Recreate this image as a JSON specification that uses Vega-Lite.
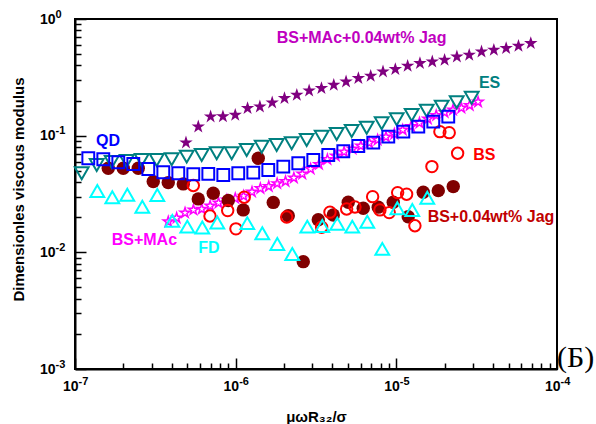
{
  "$schema": "https://vega.github.io/schema/vega-lite/v6.json",
  "width": 482,
  "height": 350,
  "autosize": {"type": "none"},
  "padding": {"left": 75, "top": 19, "right": 39, "bottom": 55},
  "background": "white",
  "config": {
    "view": {"stroke": "black", "strokeWidth": 2},
    "font": "Liberation Sans"
  },
  "datasets": {
    "points": [
      {"series": "QD", "x": 1.210e-7, "y": 0.0640},
      {"series": "QD", "x": 1.500e-7, "y": 0.0628},
      {"series": "QD", "x": 1.860e-7, "y": 0.0592},
      {"series": "QD", "x": 2.306e-7, "y": 0.0572},
      {"series": "QD", "x": 2.859e-7, "y": 0.0518},
      {"series": "QD", "x": 3.545e-7, "y": 0.0486},
      {"series": "QD", "x": 4.395e-7, "y": 0.0476},
      {"series": "QD", "x": 5.449e-7, "y": 0.0467},
      {"series": "QD", "x": 6.755e-7, "y": 0.0470},
      {"series": "QD", "x": 8.375e-7, "y": 0.0460},
      {"series": "QD", "x": 1.038e-6, "y": 0.0476},
      {"series": "QD", "x": 1.287e-6, "y": 0.0482},
      {"series": "QD", "x": 1.596e-6, "y": 0.0508},
      {"series": "QD", "x": 1.979e-6, "y": 0.0543},
      {"series": "QD", "x": 2.453e-6, "y": 0.0580},
      {"series": "QD", "x": 3.042e-6, "y": 0.0619},
      {"series": "QD", "x": 3.771e-6, "y": 0.0683},
      {"series": "QD", "x": 4.676e-6, "y": 0.0735},
      {"series": "QD", "x": 5.797e-6, "y": 0.0816},
      {"series": "QD", "x": 7.187e-6, "y": 0.0871},
      {"series": "QD", "x": 8.911e-6, "y": 0.0980},
      {"series": "QD", "x": 1.105e-5, "y": 0.1082},
      {"series": "QD", "x": 1.370e-5, "y": 0.1194},
      {"series": "QD", "x": 1.698e-5, "y": 0.1318},
      {"series": "QD", "x": 2.105e-5, "y": 0.1455},

      {"series": "ES", "x": 1.101e-7, "y": 0.0476},
      {"series": "ES", "x": 1.365e-7, "y": 0.0561},
      {"series": "ES", "x": 1.692e-7, "y": 0.0595},
      {"series": "ES", "x": 2.098e-7, "y": 0.0607},
      {"series": "ES", "x": 2.601e-7, "y": 0.0619},
      {"series": "ES", "x": 3.225e-7, "y": 0.0619},
      {"series": "ES", "x": 3.998e-7, "y": 0.0628},
      {"series": "ES", "x": 4.957e-7, "y": 0.0661},
      {"series": "ES", "x": 6.146e-7, "y": 0.0683},
      {"series": "ES", "x": 7.620e-7, "y": 0.0707},
      {"series": "ES", "x": 9.447e-7, "y": 0.0707},
      {"series": "ES", "x": 1.171e-6, "y": 0.0754},
      {"series": "ES", "x": 1.452e-6, "y": 0.0805},
      {"series": "ES", "x": 1.800e-6, "y": 0.0832},
      {"series": "ES", "x": 2.232e-6, "y": 0.0861},
      {"series": "ES", "x": 2.767e-6, "y": 0.0919},
      {"series": "ES", "x": 3.431e-6, "y": 0.0980},
      {"series": "ES", "x": 4.254e-6, "y": 0.1034},
      {"series": "ES", "x": 5.274e-6, "y": 0.1097},
      {"series": "ES", "x": 6.539e-6, "y": 0.1171},
      {"series": "ES", "x": 8.107e-6, "y": 0.1277},
      {"series": "ES", "x": 1.005e-5, "y": 0.1382},
      {"series": "ES", "x": 1.246e-5, "y": 0.1505},
      {"series": "ES", "x": 1.545e-5, "y": 0.1637},
      {"series": "ES", "x": 1.916e-5, "y": 0.1772},
      {"series": "ES", "x": 2.375e-5, "y": 0.1932},
      {"series": "ES", "x": 2.945e-5, "y": 0.2117},

      {"series": "BSMAcJag", "x": 4.906e-7, "y": 0.0871},
      {"series": "BSMAcJag", "x": 5.853e-7, "y": 0.1194},
      {"series": "BSMAcJag", "x": 6.983e-7, "y": 0.1455},
      {"series": "BSMAcJag", "x": 8.331e-7, "y": 0.1460},
      {"series": "BSMAcJag", "x": 9.939e-7, "y": 0.1505},
      {"series": "BSMAcJag", "x": 1.186e-6, "y": 0.1717},
      {"series": "BSMAcJag", "x": 1.415e-6, "y": 0.1772},
      {"series": "BSMAcJag", "x": 1.688e-6, "y": 0.1918},
      {"series": "BSMAcJag", "x": 2.013e-6, "y": 0.2092},
      {"series": "BSMAcJag", "x": 2.402e-6, "y": 0.2233},
      {"series": "BSMAcJag", "x": 2.866e-6, "y": 0.2430},
      {"series": "BSMAcJag", "x": 3.419e-6, "y": 0.2548},
      {"series": "BSMAcJag", "x": 4.079e-6, "y": 0.2720},
      {"series": "BSMAcJag", "x": 4.866e-6, "y": 0.2902},
      {"series": "BSMAcJag", "x": 5.805e-6, "y": 0.3104},
      {"series": "BSMAcJag", "x": 6.925e-6, "y": 0.3248},
      {"series": "BSMAcJag", "x": 8.262e-6, "y": 0.3536},
      {"series": "BSMAcJag", "x": 9.857e-6, "y": 0.3707},
      {"series": "BSMAcJag", "x": 1.176e-5, "y": 0.3956},
      {"series": "BSMAcJag", "x": 1.403e-5, "y": 0.4172},
      {"series": "BSMAcJag", "x": 1.674e-5, "y": 0.4306},
      {"series": "BSMAcJag", "x": 1.997e-5, "y": 0.4453},
      {"series": "BSMAcJag", "x": 2.382e-5, "y": 0.4753},
      {"series": "BSMAcJag", "x": 2.842e-5, "y": 0.4916},
      {"series": "BSMAcJag", "x": 3.390e-5, "y": 0.5246},
      {"series": "BSMAcJag", "x": 4.045e-5, "y": 0.5425},
      {"series": "BSMAcJag", "x": 4.825e-5, "y": 0.5610},
      {"series": "BSMAcJag", "x": 5.757e-5, "y": 0.5870},
      {"series": "BSMAcJag", "x": 6.868e-5, "y": 0.6191},

      {"series": "BSMAc", "x": 3.807e-7, "y": 0.0183},
      {"series": "BSMAc", "x": 4.292e-7, "y": 0.0197},
      {"series": "BSMAc", "x": 4.840e-7, "y": 0.0218},
      {"series": "BSMAc", "x": 5.457e-7, "y": 0.0231},
      {"series": "BSMAc", "x": 6.153e-7, "y": 0.0235},
      {"series": "BSMAc", "x": 6.937e-7, "y": 0.0250},
      {"series": "BSMAc", "x": 7.822e-7, "y": 0.0265},
      {"series": "BSMAc", "x": 8.819e-7, "y": 0.0281},
      {"series": "BSMAc", "x": 9.943e-7, "y": 0.0290},
      {"series": "BSMAc", "x": 1.121e-6, "y": 0.0304},
      {"series": "BSMAc", "x": 1.264e-6, "y": 0.0329},
      {"series": "BSMAc", "x": 1.425e-6, "y": 0.0353},
      {"series": "BSMAc", "x": 1.607e-6, "y": 0.0367},
      {"series": "BSMAc", "x": 1.812e-6, "y": 0.0389},
      {"series": "BSMAc", "x": 2.043e-6, "y": 0.0405},
      {"series": "BSMAc", "x": 2.303e-6, "y": 0.0434},
      {"series": "BSMAc", "x": 2.597e-6, "y": 0.0470},
      {"series": "BSMAc", "x": 2.928e-6, "y": 0.0518},
      {"series": "BSMAc", "x": 3.301e-6, "y": 0.0567},
      {"series": "BSMAc", "x": 3.722e-6, "y": 0.0625},
      {"series": "BSMAc", "x": 4.197e-6, "y": 0.0670},
      {"series": "BSMAc", "x": 4.732e-6, "y": 0.0725},
      {"series": "BSMAc", "x": 5.335e-6, "y": 0.0769},
      {"series": "BSMAc", "x": 6.015e-6, "y": 0.0816},
      {"series": "BSMAc", "x": 6.782e-6, "y": 0.0866},
      {"series": "BSMAc", "x": 7.647e-6, "y": 0.0919},
      {"series": "BSMAc", "x": 8.622e-6, "y": 0.0975},
      {"series": "BSMAc", "x": 9.721e-6, "y": 0.1034},
      {"series": "BSMAc", "x": 1.096e-5, "y": 0.1119},
      {"series": "BSMAc", "x": 1.236e-5, "y": 0.1199},
      {"series": "BSMAc", "x": 1.393e-5, "y": 0.1285},
      {"series": "BSMAc", "x": 1.571e-5, "y": 0.1390},
      {"series": "BSMAc", "x": 1.771e-5, "y": 0.1490},
      {"series": "BSMAc", "x": 1.997e-5, "y": 0.1580},
      {"series": "BSMAc", "x": 2.252e-5, "y": 0.1661},
      {"series": "BSMAc", "x": 2.539e-5, "y": 0.1727},
      {"series": "BSMAc", "x": 2.862e-5, "y": 0.1815},
      {"series": "BSMAc", "x": 3.227e-5, "y": 0.1944},

      {"series": "BS", "x": 5.45e-7, "y": 0.0374},
      {"series": "BS", "x": 6.92e-7, "y": 0.0205},
      {"series": "BS", "x": 8.92e-7, "y": 0.0228},
      {"series": "BS", "x": 1.004e-6, "y": 0.0159},
      {"series": "BS", "x": 1.131e-6, "y": 0.0297},
      {"series": "BS", "x": 2.077e-6, "y": 0.0201},
      {"series": "BS", "x": 3.428e-6, "y": 0.0164},
      {"series": "BS", "x": 3.863e-6, "y": 0.0221},
      {"series": "BS", "x": 4.906e-6, "y": 0.0235},
      {"series": "BS", "x": 5.526e-6, "y": 0.0245},
      {"series": "BS", "x": 7.120e-6, "y": 0.0300},
      {"series": "BS", "x": 7.905e-6, "y": 0.0231},
      {"series": "BS", "x": 9.03e-6, "y": 0.0219},
      {"series": "BS", "x": 1.019e-5, "y": 0.0325},
      {"series": "BS", "x": 1.159e-5, "y": 0.0315},
      {"series": "BS", "x": 1.305e-5, "y": 0.0169},
      {"series": "BS", "x": 1.665e-5, "y": 0.0543},
      {"series": "BS", "x": 1.867e-5, "y": 0.1082},
      {"series": "BS", "x": 2.134e-5, "y": 0.1061},
      {"series": "BS", "x": 2.407e-5, "y": 0.0707},

      {"series": "BSJag", "x": 1.611e-7, "y": 0.0526},
      {"series": "BSJag", "x": 1.997e-7, "y": 0.0526},
      {"series": "BSJag", "x": 2.476e-7, "y": 0.0526},
      {"series": "BSJag", "x": 3.070e-7, "y": 0.0404},
      {"series": "BSJag", "x": 3.806e-7, "y": 0.0396},
      {"series": "BSJag", "x": 4.719e-7, "y": 0.0386},
      {"series": "BSJag", "x": 5.851e-7, "y": 0.0287},
      {"series": "BSJag", "x": 7.254e-7, "y": 0.0321},
      {"series": "BSJag", "x": 8.993e-7, "y": 0.0278},
      {"series": "BSJag", "x": 1.115e-6, "y": 0.0231},
      {"series": "BSJag", "x": 1.382e-6, "y": 0.0640},
      {"series": "BSJag", "x": 1.714e-6, "y": 0.0268},
      {"series": "BSJag", "x": 2.125e-6, "y": 0.0206},
      {"series": "BSJag", "x": 2.635e-6, "y": 0.00832},
      {"series": "BSJag", "x": 3.267e-6, "y": 0.0190},
      {"series": "BSJag", "x": 4.050e-6, "y": 0.0209},
      {"series": "BSJag", "x": 5.021e-6, "y": 0.0269},
      {"series": "BSJag", "x": 6.225e-6, "y": 0.0239},
      {"series": "BSJag", "x": 7.718e-6, "y": 0.0244},
      {"series": "BSJag", "x": 9.569e-6, "y": 0.0269},
      {"series": "BSJag", "x": 1.186e-5, "y": 0.0202},
      {"series": "BSJag", "x": 1.471e-5, "y": 0.0327},
      {"series": "BSJag", "x": 1.824e-5, "y": 0.0338},
      {"series": "BSJag", "x": 2.261e-5, "y": 0.0366},

      {"series": "FD", "x": 1.377e-7, "y": 0.0335},
      {"series": "FD", "x": 1.707e-7, "y": 0.0297},
      {"series": "FD", "x": 2.116e-7, "y": 0.0312},
      {"series": "FD", "x": 2.624e-7, "y": 0.0246},
      {"series": "FD", "x": 3.253e-7, "y": 0.0310},
      {"series": "FD", "x": 4.033e-7, "y": 0.0186},
      {"series": "FD", "x": 5.000e-7, "y": 0.0166},
      {"series": "FD", "x": 6.199e-7, "y": 0.0163},
      {"series": "FD", "x": 7.686e-7, "y": 0.0180},
      {"series": "FD", "x": 1.181e-6, "y": 0.0178},
      {"series": "FD", "x": 1.465e-6, "y": 0.0146},
      {"series": "FD", "x": 1.816e-6, "y": 0.0118},
      {"series": "FD", "x": 2.251e-6, "y": 0.00969},
      {"series": "FD", "x": 2.791e-6, "y": 0.0166},
      {"series": "FD", "x": 3.460e-6, "y": 0.0168},
      {"series": "FD", "x": 4.290e-6, "y": 0.0176},
      {"series": "FD", "x": 5.319e-6, "y": 0.0166},
      {"series": "FD", "x": 6.594e-6, "y": 0.0183},
      {"series": "FD", "x": 8.176e-6, "y": 0.0107},
      {"series": "FD", "x": 1.014e-5, "y": 0.0239},
      {"series": "FD", "x": 1.257e-5, "y": 0.0231},
      {"series": "FD", "x": 1.558e-5, "y": 0.0294}
    ],
    "labels": [
      {"text": "QD", "x": 1.351e-7, "y": 0.0901},
      {"text": "BS+MAc+0.04wt% Jag", "x": 1.800e-6, "y": 0.683},
      {"text": "ES", "x": 3.266e-5, "y": 0.2812},
      {"text": "BS", "x": 3.009e-5, "y": 0.0683},
      {"text": "BS+0.04wt% Jag", "x": 1.566e-5, "y": 0.0202},
      {"text": "BS+MAc", "x": 1.692e-7, "y": 0.01277},
      {"text": "FD", "x": 5.852e-7, "y": 0.01084}
    ],
    "panel": [
      {"text": "(Б)", "x": 1.0e-4, "y": 1.245e-3}
    ]
  },
  "resolve": {"axis": {"x": "independent", "y": "independent"}},
  "encoding": {
    "x": {"field": "x", "type": "quantitative", "scale": {"type": "log", "domain": [1e-7, 1e-4], "nice": false}, "axis": null},
    "y": {"field": "y", "type": "quantitative", "scale": {"type": "log", "domain": [1e-3, 1], "nice": false}, "axis": null}
  },
  "layer": [
    {
      "data": {"name": "points"},
      "transform": [{"filter": "datum.series == 'BSMAc'"}],
      "mark": {"type": "point", "shape": "M0,-1L0.2245,-0.309L0.9511,-0.309L0.3633,0.118L0.5878,0.809L0,0.382L-0.5878,0.809L-0.3633,0.118L-0.9511,-0.309L-0.2245,-0.309Z", "filled": false, "stroke": "#FF00FF", "strokeWidth": 1.5, "size": 110, "opacity": 1},
      "encoding": {
        "x": {
          "field": "x", "type": "quantitative",
          "scale": {"type": "log", "domain": [1e-7, 1e-4], "nice": false},
          "axis": {
            "orient": "bottom",
            "title": "μωR₃₂/σ",
            "titleFont": "Liberation Sans", "titleFontSize": 15, "titleFontWeight": "bold", "titleColor": "black",
            "titleY": 47, "titleBaseline": "middle",
            "values": [1e-7,2e-7,3e-7,4e-7,5e-7,6e-7,7e-7,8e-7,9e-7,1e-6,2e-6,3e-6,4e-6,5e-6,6e-6,7e-6,8e-6,9e-6,1e-5,2e-5,3e-5,4e-5,5e-5,6e-5,7e-5,8e-5,9e-5,1e-4],
            "labelExpr": "abs(datum.value/pow(10, round(log(datum.value)/LN10)) - 1) < 0.01 ? '10' : ''",
            "labelFont": "Liberation Sans", "labelFontSize": 14, "labelFontWeight": "bold", "labelColor": "black",
            "labelAlign": "right", "labelOffset": 3,
            "labelFlush": false, "labelOverlap": false, "labelBound": false,
            "labelPadding": 21,
            "tickSize": {"condition": {"test": "abs(datum.value/pow(10, round(log(datum.value)/LN10)) - 1) < 0.01", "value": -11}, "value": -6},
            "tickColor": "black", "tickWidth": 1.5,
            "domainColor": "black", "domainWidth": 2,
            "grid": false
          }
        },
        "y": {
          "field": "y", "type": "quantitative",
          "scale": {"type": "log", "domain": [1e-3, 1], "nice": false},
          "axis": {
            "orient": "left",
            "title": "Dimensionles viscous modulus",
            "titleFont": "Liberation Sans", "titleFontSize": 15, "titleFontWeight": "bold", "titleColor": "black",
            "titleX": -57, "titleY": 170, "titleBaseline": "middle", "titleAngle": -90, "titleAlign": "center",
            "values": [1e-3,2e-3,3e-3,4e-3,5e-3,6e-3,7e-3,8e-3,9e-3,1e-2,2e-2,3e-2,4e-2,5e-2,6e-2,7e-2,8e-2,9e-2,1e-1,2e-1,3e-1,4e-1,5e-1,6e-1,7e-1,8e-1,9e-1,1],
            "labelExpr": "abs(datum.value/pow(10, round(log(datum.value)/LN10)) - 1) < 0.01 ? '10' : ''",
            "labelFont": "Liberation Sans", "labelFontSize": 14, "labelFontWeight": "bold", "labelColor": "black",
            "labelAlign": "right", "labelBaseline": "middle",
            "labelFlush": false, "labelOverlap": false, "labelBound": false,
            "labelPadding": 31,
            "tickSize": {"condition": {"test": "abs(datum.value/pow(10, round(log(datum.value)/LN10)) - 1) < 0.01", "value": -11}, "value": -6},
            "tickColor": "black", "tickWidth": 1.5,
            "domainColor": "black", "domainWidth": 2,
            "grid": false
          }
        }
      }
    },
    {
      "data": {"name": "points"},
      "transform": [{"filter": "datum.series == 'BSJag'"}],
      "mark": {"type": "point", "shape": "circle", "filled": true, "fill": "#800000", "size": 180, "opacity": 1}
    },
    {
      "data": {"name": "points"},
      "transform": [{"filter": "datum.series == 'BS'"}],
      "mark": {"type": "point", "shape": "circle", "filled": false, "stroke": "#FF0000", "strokeWidth": 2, "size": 130, "opacity": 1}
    },
    {
      "data": {"name": "points"},
      "transform": [{"filter": "datum.series == 'FD'"}],
      "mark": {"type": "point", "shape": "triangle-up", "filled": false, "stroke": "#00FFFF", "strokeWidth": 2, "size": 190, "opacity": 1}
    },
    {
      "data": {"name": "points"},
      "transform": [{"filter": "datum.series == 'ES'"}],
      "mark": {"type": "point", "shape": "triangle-down", "filled": false, "stroke": "#008080", "strokeWidth": 2, "size": 190, "opacity": 1}
    },
    {
      "data": {"name": "points"},
      "transform": [{"filter": "datum.series == 'QD'"}],
      "mark": {"type": "point", "shape": "square", "filled": false, "stroke": "#0000FF", "strokeWidth": 2, "size": 140, "opacity": 1}
    },
    {
      "data": {"name": "points"},
      "transform": [{"filter": "datum.series == 'BSMAcJag'"}],
      "mark": {"type": "point", "shape": "M0,-1L0.2245,-0.309L0.9511,-0.309L0.3633,0.118L0.5878,0.809L0,0.382L-0.5878,0.809L-0.3633,0.118L-0.9511,-0.309L-0.2245,-0.309Z", "filled": true, "fill": "#800080", "size": 200, "opacity": 1}
    },
    {
      "data": {"name": "labels"},
      "mark": {"type": "text", "align": "left", "baseline": "middle", "font": "Liberation Sans", "fontSize": 16, "fontWeight": "bold"},
      "encoding": {
        "x": {
          "field": "x", "type": "quantitative",
          "scale": {"type": "log", "domain": [1e-7, 1e-4], "nice": false},
          "axis": {
            "orient": "bottom", "title": null,
            "values": [1e-7, 1e-6, 1e-5, 1e-4],
            "labelExpr": "round(log(datum.value)/LN10) == -7 ? '-7' : round(log(datum.value)/LN10) == -6 ? '-6' : round(log(datum.value)/LN10) == -5 ? '-5' : '-4'",
            "labelFont": "Liberation Sans", "labelFontSize": 11, "labelFontWeight": "bold", "labelColor": "black",
            "labelAlign": "left", "labelOffset": 3, "labelPadding": 6,
            "labelFlush": false, "labelOverlap": false, "labelBound": false,
            "ticks": false, "domain": false, "grid": false
          }
        },
        "y": {
          "field": "y", "type": "quantitative",
          "scale": {"type": "log", "domain": [1e-3, 1], "nice": false},
          "axis": {
            "orient": "left", "title": null,
            "values": [1e-3, 1e-2, 1e-1, 1],
            "labelExpr": "round(log(datum.value)/LN10) == -3 ? '-3' : round(log(datum.value)/LN10) == -2 ? '-2' : round(log(datum.value)/LN10) == -1 ? '-1' : '0'",
            "labelFont": "Liberation Sans", "labelFontSize": 11, "labelFontWeight": "bold", "labelColor": "black",
            "labelAlign": "left", "labelBaseline": "middle", "labelOffset": -5, "labelPadding": 20,
            "labelFlush": false, "labelOverlap": false, "labelBound": false,
            "ticks": false, "domain": false, "grid": false
          }
        },
        "text": {"field": "text"},
        "color": {
          "field": "text", "type": "nominal", "legend": null,
          "scale": {
            "domain": ["QD", "BS+MAc+0.04wt% Jag", "ES", "BS", "BS+0.04wt% Jag", "BS+MAc", "FD"],
            "range": ["#0000FF", "#C000C0", "#008080", "#FF0000", "#C00000", "#FF00FF", "#00FFFF"]
          }
        }
      }
    },
    {
      "data": {"name": "panel"},
      "mark": {"type": "text", "align": "left", "baseline": "middle", "font": "Liberation Serif", "fontSize": 30, "color": "black"},
      "encoding": {"text": {"field": "text"}}
    }
  ]
}
